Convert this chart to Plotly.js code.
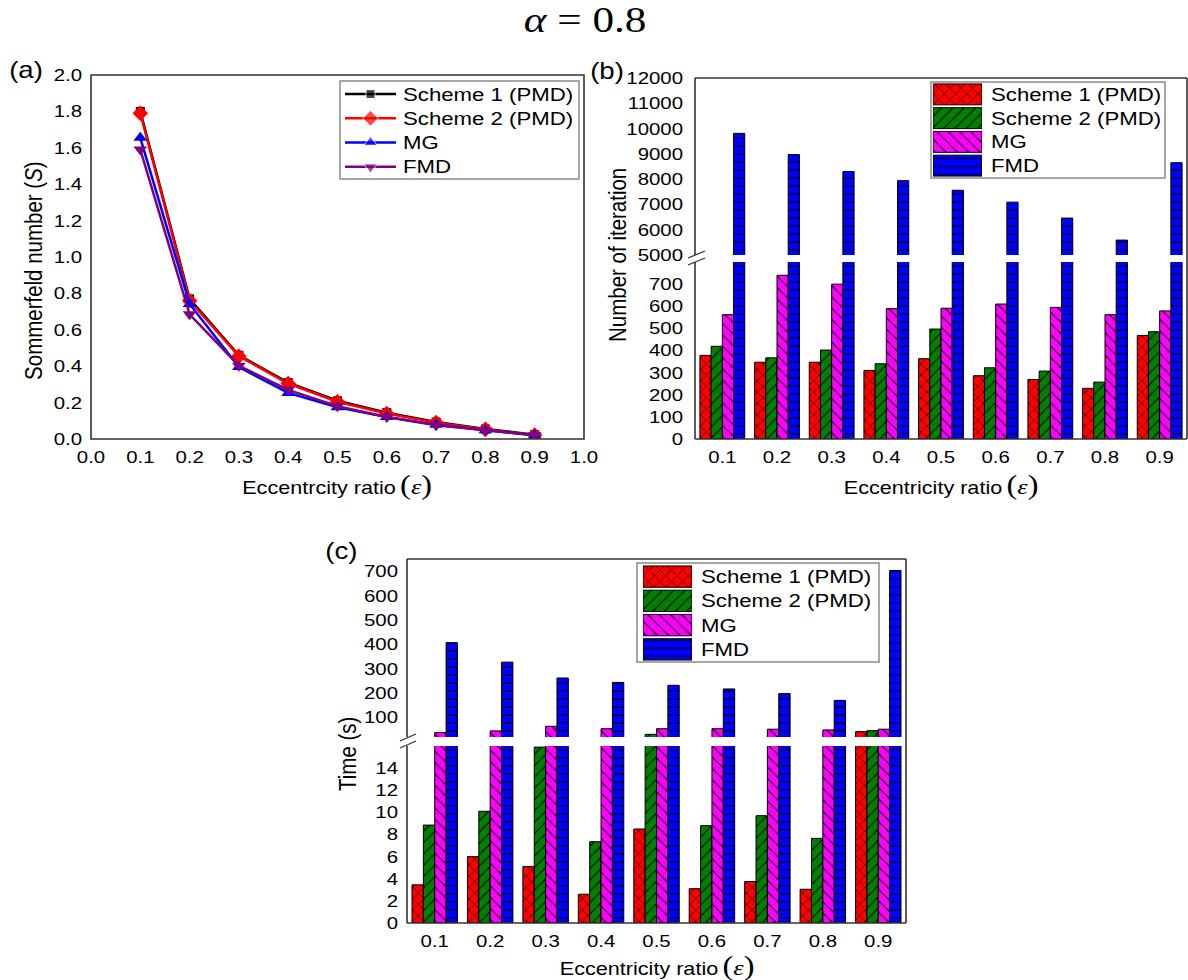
<!DOCTYPE html>
<html>
<head>
<meta charset="utf-8">
<script src="https://cdn.plot.ly/plotly-3.0.1.min.js"></script>
<style>
  html, body { margin: 0; padding: 0; background: #fff; }
  #fig { width: 1188px; height: 980px; }
</style>
</head>
<body>
<div id="fig"></div>
<script>
// ---- data -------------------------------------------------------------
const eps = [0.1, 0.2, 0.3, 0.4, 0.5, 0.6, 0.7, 0.8, 0.9];
const epsLabels = ['0.1', '0.2', '0.3', '0.4', '0.5', '0.6', '0.7', '0.8', '0.9'];
const seriesNames = ['Scheme 1 (PMD)', 'Scheme 2 (PMD)', 'MG', 'FMD'];

// (a) Sommerfeld number
const sScheme1 = [1.80, 0.77, 0.46, 0.31, 0.21, 0.145, 0.093, 0.055, 0.024];
const sScheme2 = [1.79, 0.76, 0.455, 0.305, 0.205, 0.14, 0.09, 0.053, 0.022];
const sMG      = [1.655, 0.742, 0.395, 0.253, 0.174, 0.121, 0.078, 0.048, 0.02];
const sFMD     = [1.59, 0.685, 0.403, 0.27, 0.18, 0.121, 0.076, 0.046, 0.02];

// (b) number of iterations
const iterScheme1 = [378, 347, 347, 310, 363, 286, 269, 229, 468];
const iterScheme2 = [419, 367, 402, 340, 497, 322, 307, 257, 485];
const iterMG      = [562, 740, 700, 589, 591, 610, 595, 562, 579];
const iterFMD     = [9810, 8970, 8300, 7940, 7560, 7090, 6460, 5590, 8650];

// (c) computing time (s)
const timeScheme1 = [3.45, 6.0, 5.1, 2.6, 8.5, 3.1, 3.75, 3.05, 42];
const timeScheme2 = [8.85, 10.1, 15.9, 7.35, 31, 8.8, 9.7, 7.65, 46];
const timeMG      = [38, 45, 64, 54, 54, 54, 52, 49, 52];
const timeFMD     = [407, 327, 262, 244, 232, 217, 198, 170, 703];

// tick values of the broken axes
const iterTicksLow  = [0, 100, 200, 300, 400, 500, 600, 700];
const iterTicksHigh = [5000, 6000, 7000, 8000, 9000, 10000, 11000, 12000];
const timeTicksLow  = [0, 2, 4, 6, 8, 10, 12, 14];
const timeTicksHigh = [100, 200, 300, 400, 500, 600, 700];

// ---- styling ----------------------------------------------------------
const W = 1188, H = 980;
const px = v => v / W;          // pixel column -> paper x
const py = v => 1 - v / H;      // pixel row    -> paper y
const SANS = '"Liberation Sans", Arial, sans-serif';
const SERIF = '"Liberation Serif", "Times New Roman", serif';
const FRAME = '#333333';

const lineStyles = [
  { color: '#000000', symbol: 'square',        size: 9 },
  { color: '#ff0000', symbol: 'diamond',       size: 12 },
  { color: '#0000ff', symbol: 'triangle-up',   size: 12 },
  { color: '#800080', symbol: 'triangle-down', size: 12 }
];
const barStyles = [
  { color: '#ff0000', shape: 'x' },
  { color: '#008000', shape: '/' },
  { color: '#ff00ff', shape: '\\' },
  { color: '#0000ff', shape: '-' }
];

function barMarker(i) {
  const s = barStyles[i];
  return {
    color: s.color,
    line: { color: '#000', width: 1 },
    pattern: { shape: s.shape, fgcolor: '#000', bgcolor: s.color,
               fillmode: 'replace', size: 8, solidity: 0.14 }
  };
}
function barTrace(y, i, xa, ya) {
  return { type: 'bar', x: eps, y: y, xaxis: xa, yaxis: ya, name: seriesNames[i],
           showlegend: false, hoverinfo: 'skip', marker: barMarker(i) };
}
function lineTrace(y, i) {
  const s = lineStyles[i];
  return { type: 'scatter', mode: 'lines+markers', x: eps, y: y, name: seriesNames[i],
           xaxis: 'x', yaxis: 'y', showlegend: false, hoverinfo: 'skip',
           line: { color: s.color, width: 2.5 },
           marker: { symbol: s.symbol, size: s.size, color: s.color } };
}

const sSeries = [sScheme1, sScheme2, sMG, sFMD];
const iterSeries = [iterScheme1, iterScheme2, iterMG, iterFMD];
const timeSeries = [timeScheme1, timeScheme2, timeMG, timeFMD];

const data = [];
sSeries.forEach((s, i) => data.push(lineTrace(s, i)));
iterSeries.forEach((s, i) => data.push(barTrace(s, i, 'x2', 'y2')));
iterSeries.forEach((s, i) => data.push(barTrace(s, i, 'x2', 'y3')));
timeSeries.forEach((s, i) => data.push(barTrace(s, i, 'x3', 'y4')));
timeSeries.forEach((s, i) => data.push(barTrace(s, i, 'x3', 'y5')));

// legend keys: short line+marker samples for (a), patterned swatches for (b) and (c)
lineStyles.forEach((s, i) => data.push({
  type: 'scatter', mode: 'lines+markers', x: [0, 0.5, 1], y: [i, i, i],
  xaxis: 'x4', yaxis: 'y6', showlegend: false, hoverinfo: 'skip',
  line: { color: s.color, width: 2.5 },
  marker: { symbol: s.symbol, size: [0, s.size, 0], color: s.color }
}));
function swatchTraces(xa, ya, thick) {
  barStyles.forEach((s, i) => data.push({
    type: 'bar', orientation: 'h', x: [1], y: [i], width: [thick], offsetgroup: 'key',
    xaxis: xa, yaxis: ya, showlegend: false, hoverinfo: 'skip', marker: barMarker(i)
  }));
}
swatchTraces('x5', 'y7', 0.88);
swatchTraces('x6', 'y8', 0.88);

// ---- axes -------------------------------------------------------------
const tickFont = { family: SANS, size: 17, color: '#000' };
function ax(extra) {
  return Object.assign({ showgrid: false, zeroline: false, showline: false, ticks: '',
                         tickfont: tickFont, fixedrange: true }, extra);
}
const hidden = extra => Object.assign({ visible: false, fixedrange: true, showgrid: false, zeroline: false }, extra);

const layout = {
  width: W, height: H, margin: { l: 0, r: 0, t: 0, b: 0 },
  paper_bgcolor: '#fff', plot_bgcolor: 'rgba(0,0,0,0)',
  showlegend: false, barmode: 'group', bargap: 0.18, bargroupgap: 0,
  font: { family: SANS, color: '#000' },

  // (a)
  xaxis: ax({ domain: [px(91), px(584)], range: [0, 1], dtick: 0.1, tick0: 0,
              tickformat: '.1f', anchor: 'y', ticklabelstandoff: 6 }),
  yaxis: ax({ domain: [py(439), py(75)], range: [0, 2], dtick: 0.2, tick0: 0,
              tickformat: '.1f', anchor: 'x', ticklabelstandoff: 8 }),
  // (b)
  xaxis2: ax({ domain: [px(695), px(1187)], range: [0.05, 0.95], tickvals: eps,
               ticktext: epsLabels, anchor: 'y2', ticklabelstandoff: 6 }),
  yaxis2: ax({ domain: [py(439), py(262)], range: [0, 800], tickvals: iterTicksLow,
               ticktext: iterTicksLow.map(String), anchor: 'x2', ticklabelstandoff: 11 }),
  yaxis3: ax({ domain: [py(255), py(78)], range: [5000, 12000], tickvals: iterTicksHigh,
               ticktext: iterTicksHigh.map(String), anchor: 'x2', ticklabelstandoff: 11 }),
  // (c)
  xaxis3: ax({ domain: [px(407), px(906)], range: [0.05, 0.95], tickvals: eps,
               ticktext: epsLabels, anchor: 'y4', ticklabelstandoff: 6 }),
  yaxis4: ax({ domain: [py(923), py(746)], range: [0, 16], tickvals: timeTicksLow,
               ticktext: timeTicksLow.map(String), anchor: 'x3', ticklabelstandoff: 8 }),
  yaxis5: ax({ domain: [py(737), py(559)], range: [20, 750], tickvals: timeTicksHigh,
               ticktext: timeTicksHigh.map(String), anchor: 'x3', ticklabelstandoff: 8 }),
  // legend keys
  xaxis4: hidden({ domain: [px(345), px(396)], range: [0, 1], anchor: 'y6' }),
  yaxis6: hidden({ domain: [py(179), py(82)], range: [3.5, -0.5], anchor: 'x4' }),
  xaxis5: hidden({ domain: [px(933), px(982)], range: [0, 1], anchor: 'y7' }),
  yaxis7: hidden({ domain: [py(177.5), py(82.5)], range: [3.5, -0.5], anchor: 'x5' }),
  xaxis6: hidden({ domain: [px(643), px(692)], range: [0, 1], anchor: 'y8' }),
  yaxis8: hidden({ domain: [py(661.5), py(564.5)], range: [3.5, -0.5], anchor: 'x6' }),
  shapes: [],
  annotations: []
};

// ---- frames, breaks and legend boxes -----------------------------------
function seg(x0, y0, x1, y1, color, width) {
  layout.shapes.push({ type: 'line', xref: 'paper', yref: 'paper',
    x0: px(x0), y0: py(y0), x1: px(x1), y1: py(y1),
    line: { color: color || FRAME, width: width || 1.6 } });
}
function box(x0, y0, x1, y1, color, width) {
  layout.shapes.push({ type: 'rect', xref: 'paper', yref: 'paper',
    x0: px(x0), y0: py(y1), x1: px(x1), y1: py(y0),
    line: { color: color || FRAME, width: width || 1.6 }, fillcolor: 'rgba(0,0,0,0)' });
}
// (a)
box(91, 75, 584, 439);
// (b)
seg(695, 78, 1187, 78); seg(695, 439, 1187, 439); seg(1187, 78, 1187, 439);
seg(695, 78, 695, 255); seg(695, 262, 695, 439);
seg(688, 258, 705, 251, FRAME, 1.3); seg(688, 265, 705, 258, FRAME, 1.3);
// (c)
seg(407, 559, 906, 559); seg(407, 923, 906, 923); seg(906, 559, 906, 923);
seg(407, 559, 407, 737); seg(407, 746, 407, 923);
seg(400, 741, 416, 734, FRAME, 1.3); seg(400, 748, 416, 741, FRAME, 1.3);
// legend boxes
box(340, 81, 579, 179, '#8a8a8a', 1.5);
box(931, 82, 1165, 178, '#8a8a8a', 1.5);
box(637, 563, 879, 662, '#8a8a8a', 1.5);

// ---- text ----------------------------------------------------------------
function note(text, x, y, opts) {
  layout.annotations.push(Object.assign({
    text: text, x: px(x), y: py(y), xref: 'paper', yref: 'paper', showarrow: false,
    xanchor: 'center', yanchor: 'middle', align: 'center',
    font: { family: SANS, size: 18, color: '#000' }
  }, opts || {}));
}
const big = s => `<span style="font-family:'Liberation Serif';font-size:27px">${s}</span>`;
const epsSym = `<span style="font-family:'Liberation Serif';font-size:22px"><i>ε</i></span>`;

note('<i>α</i> = 0.8', 585, 20, { font: { family: SERIF, size: 36, color: '#000' } });
note('(a)', 26, 70, { font: { family: SANS, size: 23, color: '#000' } });
note('(b)', 607, 71, { font: { family: SANS, size: 23, color: '#000' } });
note('(c)', 341, 551, { font: { family: SANS, size: 23, color: '#000' } });

note('Eccentrcity ratio\u2009' + big('(') + epsSym + big(')'), 337, 485);
note('Eccentricity ratio\u2009' + big('(') + epsSym + big(')'), 941, 485);
note('Eccentricity ratio\u2009' + big('(') + epsSym + big(')'), 657, 966);

const yTitleFont = { family: SANS, size: 20.5, color: '#000' };
note('Sommerfeld number (<i>S</i>)', 33, 271, { textangle: -90, font: yTitleFont });
note('Number of iteration', 617, 255, { textangle: -90, font: yTitleFont });
note('Time (s)', 347, 754, { textangle: -90, font: yTitleFont });

const legendRowsA = [94.1, 118.4, 142.6, 166.9];
const legendRowsB = [94.4, 118.1, 141.9, 165.6];
const legendRowsC = [576.6, 600.9, 625.1, 649.4];
const legendFont = { family: SANS, size: 18.5, color: '#000' };
seriesNames.forEach((n, i) => {
  note(n, 401, legendRowsA[i], { xanchor: 'left', align: 'left', font: legendFont });
  note(n, 989, legendRowsB[i], { xanchor: 'left', align: 'left', font: legendFont });
  note(n, 699, legendRowsC[i], { xanchor: 'left', align: 'left', font: legendFont });
});

// the artwork uses a horizontally wide type; widen every glyph about its anchor
function widenGlyphs(gd, k) {
  gd.querySelectorAll('svg text').forEach(t => {
    const m = t.getCTM();
    const base = t.getAttribute('transform') || '';
    const fs = parseFloat(getComputedStyle(t).fontSize) || 16;
    let extra;
    if (m && Math.abs(m.a) < 0.5) {
      const y = (parseFloat(t.getAttribute('y')) || 0) - 0.35 * fs;
      extra = `translate(0,${y}) scale(1,${k}) translate(0,${-y})`;
    } else {
      const x = parseFloat(t.getAttribute('x')) || 0;
      extra = `translate(${x},0) scale(${k},1) translate(${-x},0)`;
    }
    t.setAttribute('transform', (base + ' ' + extra).trim());
  });
}

const gd = document.getElementById('fig');
Plotly.newPlot(gd, data, layout, { staticPlot: true, displayModeBar: false })
  .then(() => widenGlyphs(gd, 1.2));
</script>
</body>
</html>
